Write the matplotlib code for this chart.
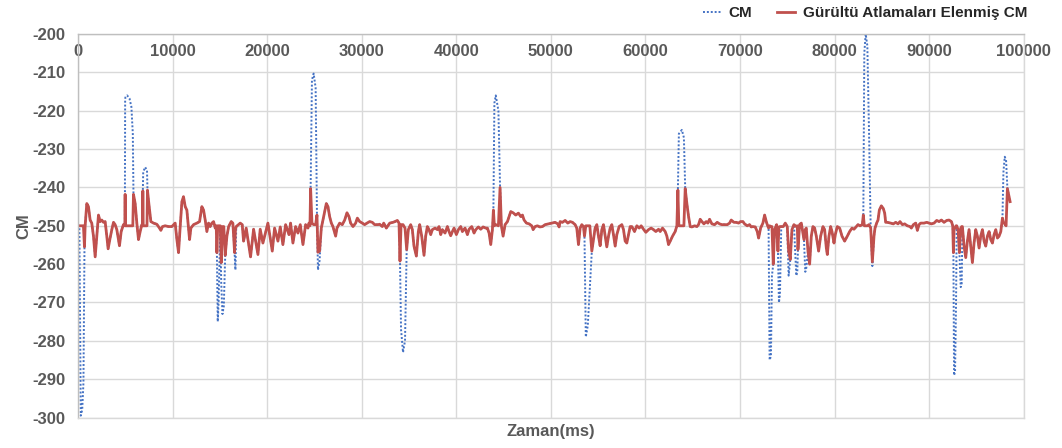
import matplotlib
matplotlib.use("Agg")
import matplotlib.pyplot as plt
import numpy as np

# time axis (ms) and noise-filtered CM values
t_ms = [
    0, 150, 300, 450, 580, 690, 760, 935, 1110, 1290, 1460, 1640, 1820, 1990, 2170, 2350,
    2520, 2700, 2875, 3050, 3190, 3400, 3580, 3760, 3930, 4110, 4290, 4390, 4570, 4810, 4960, 4990,
    5020, 5200, 5450, 5650, 5800, 5870, 6050, 6225, 6400, 6580, 6755, 6830, 6860, 6900, 7100, 7300,
    7350, 7495, 7710, 7990, 8340, 8620, 8765, 8940, 9220, 9575, 9930, 10280, 10460, 10635, 10810, 10990,
    11160, 11340, 11515, 11690, 11800, 11940, 12220, 12575, 12860, 13100, 13280, 13455, 13630, 13810, 13985, 14160,
    14340, 14515, 14620, 14690, 14780, 14870, 15050, 15150, 15280, 15420, 15570, 15750, 15930, 16205, 16380, 16560,
    16650, 16735, 17160, 17370, 17510, 17790, 18250, 18570, 19030, 19270, 19555, 20085, 20545, 20790, 21145, 21390,
    21670, 21955, 22310, 22480, 22730, 23010, 23260, 23505, 23790, 24070, 24320, 24425, 24530, 24600, 24740, 24920,
    25130, 25270, 25375, 25550, 25730, 25975, 26260, 26435, 26610, 26790, 26960, 27245, 27385, 27670, 27950, 28200,
    28445, 28655, 28830, 29080, 29360, 29540, 29785, 30065, 30315, 30560, 30840, 31125, 31370, 31725, 31900, 32180,
    32325, 32605, 32960, 33310, 33520, 33770, 33945, 34050, 34160, 34370, 34580, 34756, 34930, 35180, 35355, 35530,
    35780, 35990, 36130, 36345, 36590, 36765, 36940, 37120, 37295, 37470, 37755, 38000, 38175, 38355, 38530, 38810,
    39060, 39235, 39410, 39590, 39765, 40010, 40225, 40470, 40645, 40930, 41175, 41350, 41635, 41880, 42060, 42340,
    42585, 42835, 43115, 43290, 43470, 43645, 43820, 43925, 44030, 44175, 44455, 44630, 44770, 44950, 45160, 45410,
    45760, 46005, 46290, 46570, 46820, 46995, 47170, 47420, 47700, 47980, 48125, 48335, 48580, 48830, 49110, 49390,
    49745, 50100, 50450, 50730, 50870, 50980, 51225, 51510, 51790, 52035, 52285, 52565, 52740, 52920, 53095, 53270,
    53450, 53555, 53695, 53905, 54120, 54330, 54505, 54680, 54860, 55035, 55210, 55390, 55565, 55740, 55915, 56095,
    56270, 56445, 56620, 56800, 56975, 57220, 57505, 57680, 57855, 58030, 58210, 58385, 58560, 58845, 59090, 59340,
    59550, 59795, 60045, 60325, 60605, 60855, 61100, 61385, 61560, 61805, 62090, 62265, 62440, 62620, 62865, 63145,
    63325, 63430, 63535, 63850, 64065, 64205, 64380, 64560, 64735, 64910, 65195, 65440, 65615, 65790, 65970, 66180,
    66425, 66600, 66780, 67025, 67310, 67590, 67835, 68085, 68365, 68650, 68895, 69070, 69355, 69600, 69850, 70060,
    70305, 70480, 70765, 71010, 71185, 71365, 71610, 71820, 71965, 72175, 72420, 72600, 72775, 72880, 73020, 73130,
    73270, 73375, 73515, 73655, 73870, 74010, 74115, 74220, 74360, 74570, 74785, 74995, 75140, 75314, 75490, 75700,
    75950, 76055, 76125, 76300, 76480, 76760, 76900, 77005, 77185, 77360, 77535, 77710, 77890, 78065, 78310, 78525,
    78770, 78945, 79125, 79230, 79405, 79580, 79725, 79935, 80075, 80285, 80535, 80780, 81060, 81345, 81590, 81840,
    82050, 82300, 82475, 82685, 82930, 83037, 83140, 83285, 83460, 83635, 83815, 83990, 84165, 84270, 84445, 84590,
    84730, 84940, 85150, 85295, 85400, 85575, 85930, 86210, 86460, 86705, 86915, 87165, 87410, 87690, 87975, 88115,
    88330, 88575, 88750, 88925, 89105, 89455, 89740, 89985, 90230, 90515, 90795, 91045, 91290, 91570, 91855, 92100,
    92350, 92490, 92560, 92630, 92735, 92840, 92910, 93055, 93195, 93335, 93440, 93510, 93690, 93865, 94040, 94215,
    94395, 94570, 94745, 94920, 95100, 95275, 95450, 95630, 95805, 95980, 96155, 96335, 96510, 96685, 96860, 97040,
    97215, 97390, 97570, 97745, 97850, 97990, 98130, 98270, 98450, 98555,
]

cm_filtered = [
    -250, -250, -250, -250, -250, -255.5, -250, -244.2, -245.0, -248.5, -249.3, -252.7, -258.1, -252.7, -247.2, -248.9,
    -248.5, -249.1, -248.9, -252.7, -256.0, -253.2, -251.0, -249.1, -249.7, -251.0, -253.6, -255.2, -251.5, -249.7, -250.0, -241.8,
    -250.0, -250.0, -250.0, -250.0, -250.0, -241.8, -244.2, -249.3, -253.6, -251.5, -249.7, -250.0, -240.9, -250.0, -250.0, -250.0,
    -240.7, -244.2, -248.9, -249.3, -249.6, -250.6, -251.2, -250.2, -250.0, -250.2, -250.2, -249.3, -253.6, -257.0, -250.2, -243.7,
    -242.4, -245.0, -245.9, -250.6, -253.6, -250.6, -249.7, -249.3, -248.9, -245.0, -245.9, -248.5, -251.5, -249.3, -250.2, -249.3,
    -248.9, -250.6, -250.0, -257.0, -250.0, -250.0, -250.0, -259.6, -250.2, -250.2, -257.7, -252.7, -250.2, -248.9, -249.3, -257.0,
    -251.0, -250.2, -249.3, -249.7, -254.0, -250.6, -258.1, -250.9, -257.5, -250.9, -254.5, -249.3, -256.6, -250.6, -254.0, -250.3,
    -254.9, -249.7, -252.3, -249.3, -254.5, -250.2, -251.9, -249.7, -254.9, -249.7, -250.6, -249.3, -250.0, -240.3, -249.3, -249.7,
    -249.7, -247.2, -256.9, -256.6, -250.6, -247.6, -244.2, -245.0, -247.6, -249.3, -250.2, -252.7, -250.6, -249.3, -249.7, -248.5,
    -246.6, -247.6, -249.3, -250.2, -249.3, -248.0, -248.9, -249.3, -249.7, -249.3, -248.9, -249.1, -249.7, -249.7, -249.6, -250.2,
    -249.3, -250.6, -249.3, -249.1, -248.9, -248.6, -249.3, -259.2, -249.7, -249.7, -250.6, -256.2, -251.0, -249.7, -251.0, -255.3,
    -257.9, -251.5, -249.7, -252.7, -257.7, -252.7, -250.2, -251.0, -252.3, -251.0, -250.6, -251.0, -250.2, -252.3, -251.0, -251.9,
    -250.2, -251.5, -252.6, -251.5, -250.6, -252.3, -251.0, -250.2, -251.5, -250.6, -252.3, -250.9, -250.2, -251.9, -251.0, -250.3,
    -250.9, -250.3, -250.6, -250.6, -251.9, -254.9, -251.0, -245.9, -250.0, -249.7, -250.0, -240.0, -250.0, -252.7, -249.7, -248.9,
    -246.3, -246.6, -247.2, -246.7, -247.6, -247.2, -248.5, -249.3, -249.5, -250.0, -251.0, -250.2, -250.0, -250.3, -250.2, -249.7,
    -249.5, -249.3, -249.1, -249.5, -250.3, -248.9, -249.1, -248.6, -249.3, -248.9, -249.1, -249.7, -250.6, -254.9, -250.6, -249.7,
    -250.2, -252.7, -250.0, -250.0, -250.0, -256.6, -253.6, -250.6, -249.7, -252.7, -255.2, -251.0, -249.7, -252.7, -255.5, -252.7,
    -250.6, -249.7, -252.3, -255.3, -252.3, -250.2, -249.7, -251.0, -254.0, -254.5, -252.3, -250.2, -250.2, -251.5, -250.0, -250.6,
    -250.0, -250.9, -251.7, -251.0, -250.6, -251.0, -251.5, -250.9, -251.5, -250.6, -251.5, -252.7, -254.9, -254.0, -252.7, -251.5,
    -250.0, -240.7, -250.0, -250.0, -250.0, -240.3, -244.2, -247.6, -250.2, -250.3, -250.0, -250.2, -249.7, -248.3, -248.9, -249.5,
    -248.9, -249.3, -248.3, -249.5, -249.7, -249.1, -249.5, -249.7, -249.7, -249.7, -249.3, -248.5, -249.1, -249.1, -249.3, -248.9,
    -248.9, -249.5, -250.0, -249.7, -250.3, -250.2, -250.3, -251.5, -253.2, -250.6, -249.3, -247.2, -248.9, -249.7, -250.6, -250.0,
    -250.2, -250.2, -260.0, -251.0, -249.7, -256.6, -250.3, -250.2, -250.2, -250.2, -249.3, -250.2, -256.6, -258.8, -251.0, -249.7,
    -250.2, -250.0, -256.2, -249.7, -249.3, -253.6, -251.0, -250.6, -256.6, -260.0, -252.7, -250.2, -250.6, -252.7, -256.6, -252.7,
    -250.2, -251.0, -255.8, -257.5, -252.7, -250.2, -251.5, -254.5, -252.3, -250.2, -250.6, -252.7, -254.0, -252.7, -251.5, -250.6,
    -250.9, -250.2, -249.7, -250.0, -249.7, -247.2, -250.0, -250.0, -250.0, -249.7, -250.6, -259.4, -252.7, -250.6, -249.3, -248.5,
    -245.9, -244.8, -245.5, -246.7, -249.1, -249.1, -249.3, -249.5, -249.1, -249.5, -248.9, -249.7, -249.5, -250.0, -250.2, -250.6,
    -249.7, -249.3, -251.2, -249.7, -249.3, -249.3, -249.1, -249.3, -249.5, -249.3, -248.6, -248.9, -248.5, -249.1, -248.6, -248.5,
    -248.9, -250.0, -257.0, -251.0, -250.6, -250.0, -250.0, -251.0, -257.0, -250.6, -250.2, -250.2, -255.3, -258.3, -254.0, -251.0,
    -255.3, -259.6, -254.5, -251.0, -252.7, -255.8, -252.7, -251.0, -254.0, -255.3, -252.7, -251.5, -253.6, -254.5, -252.3, -251.0,
    -253.2, -252.7, -251.5, -248.0, -249.1, -249.5, -250.0, -240.3, -242.4, -243.7,
]

# raw CM differs from the filtered series only at the noise jumps
spike_t = [300, 450, 580, 4990, 5020, 5200, 5450, 5650, 5800, 6900, 7100, 7300,
           14780, 14870, 15150, 15280, 15420, 16650, 24740, 24920, 25130, 25375, 25550,
           34160, 34370, 34580, 44030, 44175, 44455, 53695, 53905, 54120,
           63535, 63850, 64065, 73130, 73270, 73375, 74115, 74220, 75140, 75950, 76055,
           76900, 77005, 83140, 83285, 83460, 83635, 83990, 92630, 92735, 92840,
           93335, 93440, 97850, 97990, 98130]
spike_cm = [-299.5, -298, -291, -217, -216.5, -216, -216.8, -219, -226, -236, -234.7, -235.5,
            -275, -270, -265, -273, -271, -261.5, -212, -210.3, -214, -261.5, -259,
            -277, -283, -280, -218, -216, -220, -279, -276, -266,
            -226, -225, -227, -285, -284, -263, -270, -268, -263, -263, -262,
            -262, -261, -205, -200, -203, -225, -260.5, -289, -288, -270,
            -266, -265, -236, -232, -233]

raw_map = dict(zip(spike_t, spike_cm))
cm_raw = [raw_map.get(t, v) for t, v in zip(t_ms, cm_filtered)]

plt.rcParams['font.family'] = ['Liberation Sans', 'DejaVu Sans']
plt.rcParams['axes.unicode_minus'] = False
gray = '#595959'
grid_c = '#D9D9D9'

fig = plt.figure(figsize=(10.62, 4.48), dpi=100)
ax = fig.add_axes([0.0734, 0.068, 0.8906, 0.856])

ax.plot(t_ms, cm_raw, color='#4472C4', lw=1.4, linestyle=(0, (1, 1)), label='CM')
ax.plot(t_ms, cm_filtered, color='#C0504D', lw=2, label='Gürültü Atlamaları Elenmiş CM')

ax.set_xlim(0, 100000)
ax.set_ylim(-300, -200)
ax.set_xticks(np.arange(0, 100001, 10000))
ax.set_yticks(np.arange(-300, -199, 10))
ax.grid(True, color=grid_c, lw=1)
ax.set_axisbelow(True)
for s in ax.spines.values():
    s.set_color(grid_c)
    s.set_linewidth(1)
ax.spines['top'].set_color('#BFBFBF')
ax.spines['left'].set_color('#BFBFBF')

ax.tick_params(axis='x', top=True, labeltop=True, bottom=False, labelbottom=False,
               length=0, pad=-18, labelsize=12, labelcolor=gray)
ax.tick_params(axis='y', length=0, pad=9, labelsize=12, labelcolor=gray)
for lab in ax.get_xticklabels() + ax.get_yticklabels():
    lab.set_fontweight('bold')

ax.xaxis.set_label_position('bottom')
ax.set_xlabel('Zaman(ms)', fontsize=12, fontweight='bold', color=gray, labelpad=5)
ax.set_ylabel('CM', fontsize=12, fontweight='bold', color=gray, labelpad=1)

leg = fig.legend(loc='upper right', bbox_to_anchor=(0.98, 1.017), ncol=2, frameon=False,
                 prop={'weight': 'bold', 'size': 11}, handlelength=1.2, columnspacing=1.6,
                 handletextpad=0.5)
for txt in leg.get_texts():
    txt.set_color('#262626')

fig.savefig('out.png', dpi=100)
